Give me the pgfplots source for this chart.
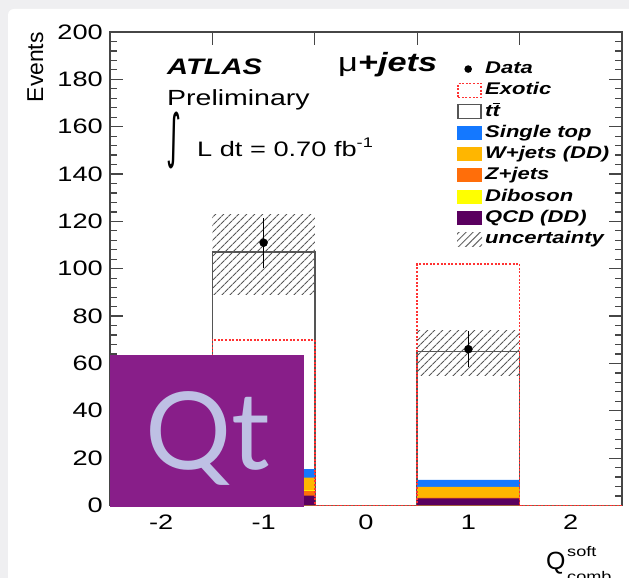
\documentclass[border=0pt]{standalone}
\usepackage{pgfplots}
\pgfplotsset{compat=1.18}
\usepackage{graphicx}
\usepackage{fontspec}
\usetikzlibrary{patterns.meta}
\setmainfont[FakeStretch=1.3]{Liberation Sans}
\newfontfamily\plainsans{Liberation Sans}
\newfontfamily\symfont{DejaVu Sans}
\newfontfamily\qtfont{Lato}
\definecolor{bggray}{RGB}{239,239,241}
\definecolor{qtpurple}{RGB}{136,30,137}
\definecolor{qttext}{RGB}{190,192,228}
\definecolor{stblue}{RGB}{20,120,255}
\definecolor{worange}{RGB}{255,182,0}
\definecolor{zorange}{RGB}{255,110,10}
\definecolor{dibyellow}{RGB}{255,255,0}
\definecolor{qcdpurple}{RGB}{90,0,95}
\definecolor{exored}{RGB}{255,50,50}
\definecolor{ttgray}{RGB}{85,85,85}
\definecolor{framegray}{RGB}{70,70,70}
\begin{document}
\begin{tikzpicture}[x=1bp,y=1bp]
\useasboundingbox (0,0) rectangle (629,578);
\clip (0,0) rectangle (629,578);
\fill[bggray] (0,0) rectangle (629,578);
\fill[white, rounded corners=6bp] (8,-20) rectangle (660,569);
\begin{axis}[
  at={(110bp,72.5bp)}, anchor=south west,
  scale only axis, width=512bp, height=473.5bp,
  xmin=-2.5, xmax=2.5, ymin=0, ymax=200,
  axis line style={framegray, line width=1.3bp},
  tick style={framegray, line width=1.2bp},
  major tick length=13bp, minor tick length=7bp,
  tick align=inside,
  xtick={-1.5,-0.5,0.5,1.5}, xticklabels={,,,},
  extra x ticks={-2,-1,0,1,2},
  extra x tick labels={-2,-1,0,1,2},
  extra x tick style={major tick length=0pt},
  ytick={0,20,...,200}, minor y tick num=4,
  /pgf/number format/assume math mode=true,
  tick label style={font=\fontsize{21}{21}\selectfont},
  yticklabel style={inner sep=0pt, xshift=-7bp},
  xticklabel style={inner sep=0pt, yshift=-9bp, anchor=north},
  legend cell align=left,
  legend style={at={(axis description cs:0.6777,0.9401)}, anchor=north west,
    draw=none, fill=none, inner sep=0pt, row sep=4.25bp, column sep=3bp,
    font=\fontsize{17}{17}\selectfont\bfseries\itshape,
    nodes={inner sep=0pt, text height=13bp, text depth=4bp}},
]
% legend entries
\addlegendimage{legend image code/.code={\path[draw=none,fill=none] (0bp,-7bp) rectangle (25bp,7bp); \fill[black,draw=none] (11bp,0) circle (3.8bp);}}
\addlegendentry{Data}
\addlegendimage{legend image code/.code={\path[draw=none,fill=none] (0bp,-7bp) rectangle (25bp,7bp); \draw[draw=exored, fill=none, line width=1.5bp, dash pattern=on 2bp off 1.6bp] (1bp,-7bp) rectangle (24bp,7bp);}}
\addlegendentry{Exotic}
\addlegendimage{legend image code/.code={\path[draw=none,fill=none] (0bp,-7bp) rectangle (25bp,7bp); \draw[draw=ttgray, fill=white, line width=1.6bp] (1bp,-7bp) rectangle (24bp,7bp);}}
\addlegendentry{t$\overline{\hbox{t}}$}
\addlegendimage{legend image code/.code={\fill[stblue,draw=none] (0bp,-7bp) rectangle (25bp,7bp);}}
\addlegendentry{Single top}
\addlegendimage{legend image code/.code={\fill[worange,draw=none] (0bp,-7bp) rectangle (25bp,7bp);}}
\addlegendentry{W+jets (DD)}
\addlegendimage{legend image code/.code={\fill[zorange,draw=none] (0bp,-7bp) rectangle (25bp,7bp);}}
\addlegendentry{Z+jets}
\addlegendimage{legend image code/.code={\fill[dibyellow,draw=none] (0bp,-7bp) rectangle (25bp,7bp);}}
\addlegendentry{Diboson}
\addlegendimage{legend image code/.code={\fill[qcdpurple,draw=none] (0bp,-7bp) rectangle (25bp,7bp);}}
\addlegendentry{QCD (DD)}
\addlegendimage{legend image code/.code={\path[draw=none, pattern={Lines[angle=45,distance=5bp,line width=1bp]}, pattern color=black!60] (0bp,-7bp) rectangle (25bp,7bp);}}
\addlegendentry{uncertainty}
% ttbar (total MC) outline
\addplot[const plot, fill=white, draw=ttgray, line width=1.6bp, forget plot]
  coordinates {(-2.5,0) (-1.5,107) (-0.5,0) (0.5,65) (1.5,0) (2.5,0)} \closedcycle;
% stacked backgrounds (cumulative)
\addplot[const plot, fill=stblue, draw=none, forget plot]
  coordinates {(-2.5,0) (-1.5,15.4) (-0.5,0) (0.5,10.8) (1.5,0) (2.5,0)} \closedcycle;
\addplot[const plot, fill=worange, draw=none, forget plot]
  coordinates {(-2.5,0) (-1.5,11.8) (-0.5,0) (0.5,7.9) (1.5,0) (2.5,0)} \closedcycle;
\addplot[const plot, fill=dibyellow, draw=none, forget plot]
  coordinates {(-2.5,0) (-1.5,6.5) (-0.5,0) (0.5,3.5) (1.5,0) (2.5,0)} \closedcycle;
\addplot[const plot, fill=zorange, draw=none, forget plot]
  coordinates {(-2.5,0) (-1.5,6.2) (-0.5,0) (0.5,3.4) (1.5,0) (2.5,0)} \closedcycle;
\addplot[const plot, fill=qcdpurple, draw=none, forget plot]
  coordinates {(-2.5,0) (-1.5,4.2) (-0.5,0) (0.5,3.0) (1.5,0) (2.5,0)} \closedcycle;
% exotic
\addplot[const plot, draw=exored, line width=1.5bp, dash pattern=on 2bp off 1.6bp, forget plot]
  coordinates {(-2.5,0) (-1.5,70) (-0.5,0) (0.5,102) (1.5,0) (2.5,0)};
% uncertainty bands
\addplot[draw=none, pattern={Lines[angle=45,distance=6bp,line width=1.1bp]}, pattern color=black!65, forget plot]
  coordinates {(-1.5,89) (-0.5,89) (-0.5,123) (-1.5,123) (-1.5,89)};
\addplot[draw=none, pattern={Lines[angle=45,distance=6bp,line width=1.1bp]}, pattern color=black!65, forget plot]
  coordinates {(0.5,55) (1.5,55) (1.5,74) (0.5,74) (0.5,55)};
% data
\addplot[only marks, mark=*, mark size=4bp, black, forget plot,
  error bars/.cd, y dir=both, y explicit, error mark=none,
  error bar style={line width=1.3bp, black}]
  coordinates {(-1,111) +- (0,10.5) (1,66) +- (0,7.7)};
\end{axis}
% labels and annotations
\node[rotate=90, anchor=base east, inner sep=0pt, font=\plainsans\fontsize{23}{23}\selectfont] at (43,546) {Events};
\node[anchor=base west, inner sep=0pt, font=\fontsize{22.5}{22.5}\selectfont\bfseries\itshape] at (167,503) {ATLAS};
\node[anchor=base west, inner sep=0pt, font=\fontsize{22}{22}\selectfont] at (167,472) {Preliminary};
\node[anchor=center, inner sep=0pt] at (174,438) {\resizebox*{15bp}{57bp}{\symfont ∫}};
\node[anchor=base west, inner sep=0pt, font=\fontsize{21}{21}\selectfont] at (197,421) {L dt = 0.70 fb\raisebox{9bp}{\fontsize{14}{14}\selectfont -1}};
\node[anchor=base west, inner sep=0pt] at (338,506) {\fontsize{26.5}{26.5}\selectfont μ\bfseries\itshape +jets};
\node[anchor=base west, inner sep=0pt, font=\plainsans\fontsize{25}{25}\selectfont] at (546,8) {Q};
\node[anchor=base west, inner sep=0pt, font=\fontsize{14}{14}\selectfont] at (567,21) {soft};
\node[anchor=base west, inner sep=0pt, font=\fontsize{14}{14}\selectfont] at (567,-4) {comb};
% Qt logo overlay
\fill[qtpurple] (110,71) rectangle (304,223);
\node[anchor=base west, inner sep=0pt, text=qttext, font=\qtfont\fontsize{108}{108}\selectfont] at (145,108) {Qt};
\end{tikzpicture}
\end{document}
